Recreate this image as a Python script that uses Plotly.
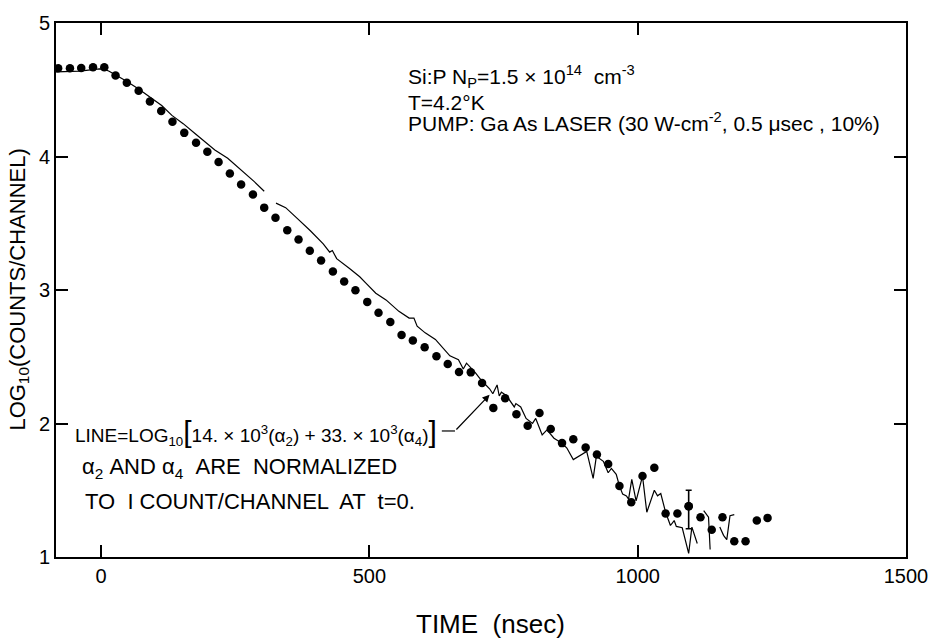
import plotly.graph_objects as go

# ---- data ----
t_dots = [-80, -58, -37, -15, 6, 27, 48, 70, 91, 112, 133, 155, 177, 198, 219,
          240, 261, 283, 304, 325, 347, 368, 389, 410, 432, 453, 474, 496, 517,
          539, 560, 581, 603, 625, 646, 667, 689, 710, 731, 753, 774, 795, 817,
          838, 859, 880, 903, 924, 945, 966, 988, 1009, 1031, 1052, 1074, 1095,
          1117, 1138, 1158, 1180, 1201, 1222, 1242]
log_counts = [4.661, 4.661, 4.663, 4.668, 4.668, 4.606, 4.552, 4.493, 4.412, 4.340,
              4.261, 4.177, 4.103, 4.036, 3.958, 3.873, 3.790, 3.716, 3.617, 3.542,
              3.448, 3.378, 3.294, 3.221, 3.138, 3.063, 2.998, 2.911, 2.830, 2.761,
              2.663, 2.622, 2.571, 2.503, 2.445, 2.386, 2.383, 2.304, 2.117, 2.189,
              2.070, 1.984, 2.078, 1.959, 1.853, 1.882, 1.821, 1.767, 1.697, 1.532,
              1.411, 1.607, 1.668, 1.325, 1.325, 1.381, 1.298, 1.204, 1.298, 1.118,
              1.118, 1.273, 1.293]

err_t = [1095]
err_y = [1.381]
err_plus = [0.119]
err_minus = [0.169]

t_line = [-84, -64, -40, -3, 6, 15, 25, 46, 70, 92, 113, 132, 153, 175, 193, 212,
          236, 261, 285, 304, None,
          326, 344, 365, 390, 414, 426, 431, 439, 463, 482, 494, 512, 531, 555,
          574, 583, 589, 604, 623, 635, 650, 666, 675, 681, 697, 709, 724, 730,
          738, 742, 746, 755, 770, 773, 782, 792, 804, 810, 822, 831, 844, 859,
          868, 880, 896, 905, 917, 923, 936, 945, 951, 960, 966, 972, 979, 983,
          989, 997, 1009, 1017, 1031, 1037, 1043, 1052, 1061, 1068, 1072, 1083,
          1095, 1101, 1111, None,
          1123, 1132, 1135, None,
          1153, 1160, 1166, 1172, 1180]
y_line = [4.634, 4.636, 4.640, 4.656, 4.654, 4.639, 4.617, 4.567, 4.506, 4.443,
          4.382, 4.308, 4.246, 4.172, 4.110, 4.049, 3.987, 3.901, 3.814, 3.740, None,
          3.651, 3.617, 3.538, 3.444, 3.346, 3.284, 3.296, 3.235, 3.161, 3.099,
          3.050, 2.976, 2.926, 2.840, 2.790, 2.790, 2.729, 2.679, 2.630, 2.575,
          2.507, 2.478, 2.408, 2.452, 2.383, 2.322, 2.260, 2.223, 2.289, 2.206,
          2.235, 2.211, 2.124, 2.149, 2.124, 2.038, 2.001, 2.038, 1.915, 1.952,
          1.890, 1.853, 1.816, 1.730, 1.767, 1.791, 1.589, 1.754, 1.717, 1.631,
          1.663, 1.619, 1.532, 1.471, 1.458, 1.434, 1.582, 1.421, 1.606, 1.335,
          1.500, 1.458, 1.475, 1.335, 1.236, 1.273, 1.229, 1.219, 1.027, 1.224,
          1.101, None,
          1.347, 1.298, 1.056, None,
          1.224, 1.162, 1.130, 1.310, 1.318]

x_ticks = [0, 500, 1000, 1500]
y_ticks = [1, 2, 3, 4, 5]

FONT = "Liberation Sans"

fig = go.Figure()
fig.add_trace(go.Scatter(x=t_line, y=y_line, mode="lines", connectgaps=False,
                         line=dict(color="black", width=1.2), hoverinfo="skip"))
fig.add_trace(go.Scatter(x=t_dots, y=log_counts, mode="markers",
                         marker=dict(color="black", size=8.5)))
fig.add_trace(go.Scatter(x=err_t, y=err_y, mode="markers",
                         marker=dict(color="black", size=8.5),
                         error_y=dict(type="data", array=err_plus, arrayminus=err_minus,
                                      color="black", thickness=1.6, width=3)))

axis_common = dict(showline=True, linecolor="black", linewidth=2, mirror="ticks",
                   ticks="inside", ticklen=12, tickwidth=1.5, tickcolor="black",
                   showgrid=False, zeroline=False,
                   tickfont=dict(family=FONT, size=20, color="black"))
fig.update_xaxes(range=[-84, 1500], tickvals=x_ticks, **axis_common)
fig.update_yaxes(range=[1, 5], tickvals=y_ticks, **axis_common)

big = '<span style="font-size:30px">'
ann = [
    dict(x=569, y=4.60, size=21,
         text="Si:P N<sub>P</sub>=1.5 × 10<sup>14</sup>  cm<sup>-3</sup>"),
    dict(x=569, y=4.405, size=21, text="T=4.2°K"),
    dict(x=569, y=4.262, size=21,
         text="PUMP: Ga As LASER (30 W-cm<sup>-2</sup>, 0.5 μsec , 10%)"),
    dict(x=-53, y=1.935, size=19,
         text="LINE=LOG<sub>10</sub>" + big + "[</span>14. × 10<sup>3</sup>(α<sub>2</sub>) + 33. × 10<sup>3</sup>(α<sub>4</sub>)" + big + "]</span>"),
    dict(x=-40, y=1.665, size=22, text="α<sub>2</sub> AND α<sub>4</sub>  ARE  NORMALIZED"),
    dict(x=-34, y=1.414, size=22, text="TO  I COUNT/CHANNEL  AT  t=0."),
]
annotations = []
for a in ann:
    annotations.append(dict(xref="x", yref="y", x=a["x"], y=a["y"], text=a["text"],
                            showarrow=False, xanchor="left", yanchor="middle",
                            font=dict(family=FONT, size=a["size"], color="black")))
# arrow pointing to the line
annotations.append(dict(xref="x", yref="y", x=724, y=2.215, ax=659.5, ay=1.944,
                        axref="x", ayref="y", text="", showarrow=True,
                        arrowhead=2, arrowsize=1.2, arrowwidth=1.2, arrowcolor="black"))
# axis titles
annotations.append(dict(xref="paper", yref="paper", x=-0.044, y=0.5,
                        text="LOG<sub>10</sub>(COUNTS/CHANNEL)", textangle=-90,
                        showarrow=False, xanchor="center", yanchor="middle",
                        font=dict(family=FONT, size=22, color="black")))
annotations.append(dict(xref="paper", yref="paper", x=0.511, y=-0.126,
                        text="TIME  (nsec)", showarrow=False,
                        xanchor="center", yanchor="middle",
                        font=dict(family=FONT, size=26, color="black")))

fig.update_layout(
    width=940, height=639,
    margin=dict(l=56, r=23, t=17, b=82),
    paper_bgcolor="white", plot_bgcolor="white",
    showlegend=False,
    annotations=annotations,
    shapes=[dict(type="line", xref="x", yref="y", x0=635, x1=659.5, y0=1.944, y1=1.944,
                 line=dict(color="black", width=1.2))],
)

fig.write_html("out.html")
